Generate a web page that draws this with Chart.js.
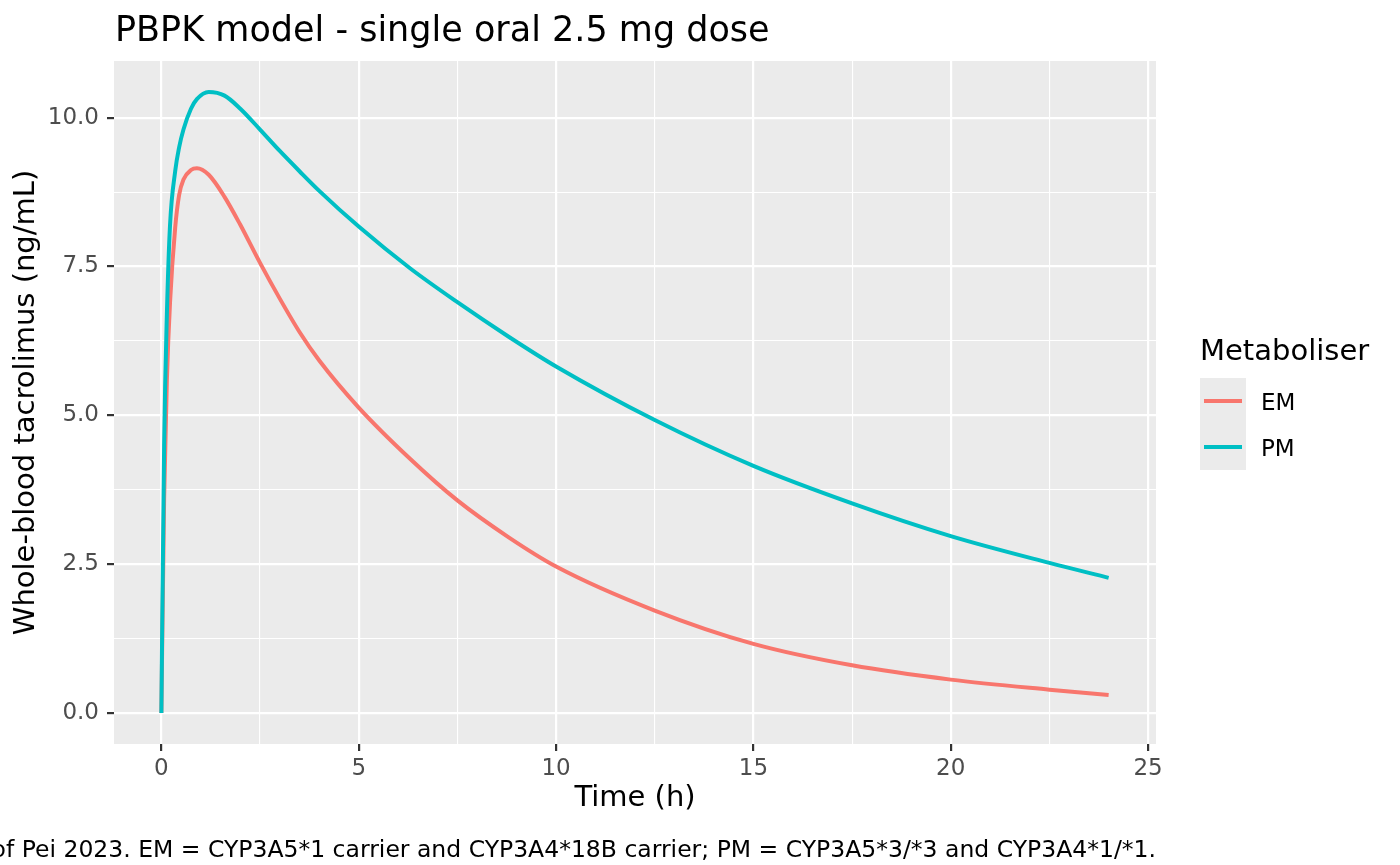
<!DOCTYPE html>
<html>
<head>
<meta charset="utf-8">
<title>PBPK model - single oral 2.5 mg dose</title>
<script src="https://cdn.jsdelivr.net/npm/chart.js@4.4.1/dist/chart.umd.min.js"></script>
<style>
  html, body { margin: 0; padding: 0; background: #ffffff; }
  #wrap { width: 1400px; height: 865px; }
</style>
</head>
<body>
<div id="wrap"><canvas id="pkChart" width="1400" height="865"></canvas></div>
<script>
// values
const timeHours = [0, 0.07, 0.14, 0.22, 0.35, 0.45, 0.56, 0.75, 0.9, 1.2, 1.6, 2, 2.5, 3, 3.5, 4, 5, 6.3, 7.5, 8.8, 10, 12.5, 15, 17.5, 20, 22.5, 24];
const emConc = [0, 3.6, 5.6, 6.9, 8.15, 8.7, 8.96, 9.12, 9.15, 9.04, 8.67, 8.2, 7.56, 6.96, 6.4, 5.92, 5.13, 4.27, 3.57, 2.95, 2.46, 1.72, 1.16, 0.8, 0.56, 0.39, 0.3];
const pmConc = [0, 4.5, 6.7, 8.2, 9.1, 9.5, 9.8, 10.15, 10.31, 10.43, 10.37, 10.15, 9.8, 9.44, 9.1, 8.77, 8.17, 7.47, 6.9, 6.32, 5.82, 4.92, 4.15, 3.52, 2.97, 2.52, 2.27];

const seriesNames = ["EM", "PM"];
const seriesColors = ["#F8766D", "#00BFC4"];

const xGrid = [0, 2.5, 5, 7.5, 10, 12.5, 15, 17.5, 20, 22.5, 25];
const xMajor = [0, 5, 10, 15, 20, 25];
const yGrid = [0, 1.25, 2.5, 3.75, 5, 6.25, 7.5, 8.75, 10];
const yMajor = [0, 2.5, 5, 7.5, 10];

const titleText = "PBPK model - single oral 2.5 mg dose";
const xTitle = "Time (h)";
const yTitle = "Whole-blood tacrolimus (ng/mL)";
const legendTitle = "Metaboliser";
const captionText = "of Pei 2023. EM = CYP3A5*1 carrier and CYP3A4*18B carrier; PM = CYP3A5*3/*3 and CYP3A4*1/*1.";

const FONT = "'DejaVu Sans', 'Noto Sans', sans-serif";

// ggplot-like 5% expansion of the data range
const tMin = Math.min(...timeHours), tMax = Math.max(...timeHours);
const cMax = Math.max(...emConc, ...pmConc);
const xPad = (tMax - tMin) * 0.05;
const yPad = cMax * 0.05;

function toPoints(values) {
  return timeHours.map((t, i) => ({ x: t, y: values[i] }));
}

const isMajor = (list, v) => list.some((m) => Math.abs(m - v) < 1e-9);

const panelBg = {
  id: "panelBg",
  beforeDraw(chart) {
    const { ctx, chartArea: a } = chart;
    ctx.save();
    ctx.fillStyle = "#EBEBEB";
    ctx.fillRect(a.left, a.top, a.right - a.left, a.bottom - a.top);
    ctx.restore();
  },
};

const extras = {
  id: "extras",
  afterDraw(chart) {
    const { ctx, chartArea: a } = chart;
    ctx.save();
    ctx.textBaseline = "alphabetic";

    // title
    ctx.fillStyle = "#000000";
    ctx.textAlign = "left";
    ctx.font = "35px " + FONT;
    ctx.fillText(titleText, a.left + 1, 41);

    // legend
    ctx.font = "29px " + FONT;
    ctx.fillText(legendTitle, 1200, 360);
    ctx.fillStyle = "#EBEBEB";
    ctx.fillRect(1200, 378, 46, 92);
    ctx.font = "23px " + FONT;
    seriesNames.forEach((name, i) => {
      const y = 401 + i * 46;
      ctx.strokeStyle = seriesColors[i];
      ctx.lineWidth = 4;
      ctx.beginPath();
      ctx.moveTo(1204, y);
      ctx.lineTo(1242, y);
      ctx.stroke();
      ctx.fillStyle = "#000000";
      ctx.fillText(name, 1261, y + 9);
    });

    // caption (right aligned to the panel)
    ctx.textAlign = "right";
    ctx.font = "23.5px " + FONT;
    ctx.fillText(captionText, a.right, 857);
    ctx.restore();
  },
};

const data = {
  datasets: [
    {
      label: seriesNames[0],
      data: toPoints(emConc),
      borderColor: seriesColors[0],
      backgroundColor: seriesColors[0],
      borderWidth: 4,
      pointRadius: 0,
      cubicInterpolationMode: "monotone",
      order: 2,
    },
    {
      label: seriesNames[1],
      data: toPoints(pmConc),
      borderColor: seriesColors[1],
      backgroundColor: seriesColors[1],
      borderWidth: 4,
      pointRadius: 0,
      cubicInterpolationMode: "monotone",
      order: 1,
    },
  ],
};

const config = {
  type: "line",
  data: data,
  plugins: [panelBg, extras],
  options: {
    responsive: false,
    animation: false,
    events: [],
    layout: { padding: { top: 61, right: 244, left: 0, bottom: 0 } },
    plugins: {
      legend: { display: false },
      title: { display: false },
      tooltip: { enabled: false },
    },
    scales: {
      x: {
        type: "linear",
        min: tMin - xPad,
        max: tMax + xPad,
        afterBuildTicks: (axis) => {
          axis.ticks = xGrid.map((v) => ({ value: v }));
        },
        afterFit: (scale) => {
          scale.height = 121;
        },
        ticks: {
          autoSkip: false,
          maxRotation: 0,
          padding: 4,
          color: "#4D4D4D",
          font: { family: FONT, size: 23 },
          callback: (v) => (isMajor(xMajor, v) ? String(v) : ""),
        },
        grid: {
          color: "#FFFFFF",
          lineWidth: (ctx) => (ctx.tick && isMajor(xMajor, ctx.tick.value) ? 2.2 : 1.1),
          tickColor: (ctx) => (ctx.tick && isMajor(xMajor, ctx.tick.value) ? "#333333" : "rgba(0,0,0,0)"),
          tickWidth: 2.2,
          tickLength: 7,
        },
        border: { display: false },
        title: {
          display: true,
          text: xTitle,
          color: "#000000",
          font: { family: FONT, size: 29 },
          padding: { top: 0, bottom: 49.6 },
        },
      },
      y: {
        type: "linear",
        min: -yPad,
        max: cMax + yPad,
        afterBuildTicks: (axis) => {
          axis.ticks = yGrid.map((v) => ({ value: v }));
        },
        afterFit: (scale) => {
          scale.width = 114;
        },
        ticks: {
          autoSkip: false,
          padding: 8,
          color: "#4D4D4D",
          font: { family: FONT, size: 23 },
          callback: (v) => (isMajor(yMajor, v) ? v.toFixed(1) : ""),
        },
        grid: {
          color: "#FFFFFF",
          lineWidth: (ctx) => (ctx.tick && isMajor(yMajor, ctx.tick.value) ? 2.2 : 1.1),
          tickColor: (ctx) => (ctx.tick && isMajor(yMajor, ctx.tick.value) ? "#333333" : "rgba(0,0,0,0)"),
          tickWidth: 2.2,
          tickLength: 7,
        },
        border: { display: false },
        title: {
          display: true,
          text: yTitle,
          color: "#000000",
          font: { family: FONT, size: 29 },
          padding: { top: 9.3, bottom: 0 },
        },
      },
    },
  },
};

const pkChart = new Chart(document.getElementById("pkChart"), config);
</script>
</body>
</html>
